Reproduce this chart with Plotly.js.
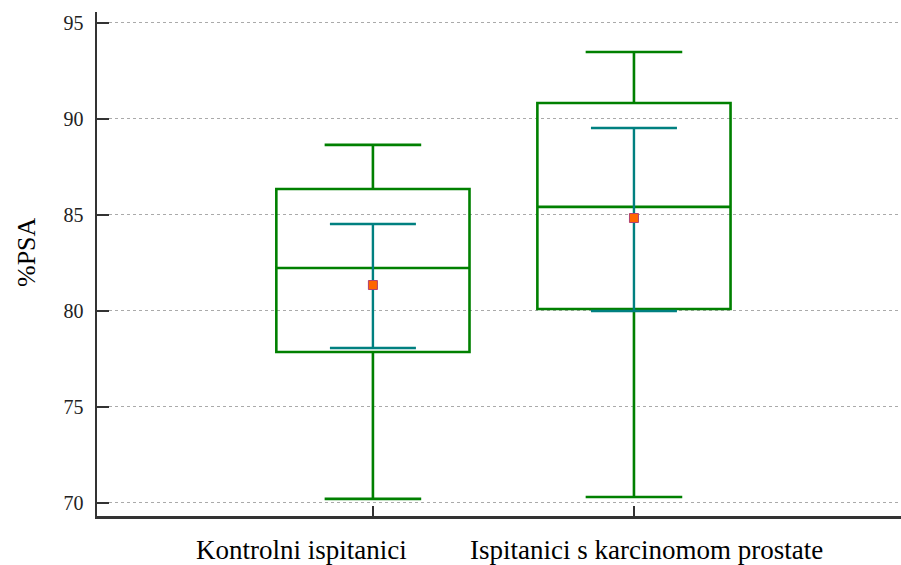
<!DOCTYPE html>
<html>
<head>
<meta charset="utf-8">
<script src="https://cdn.plot.ly/plotly-3.0.1.min.js"></script>
<style>html,body{margin:0;padding:0;background:#fff;}#chart{width:901px;height:565px;}</style>
</head>
<body>
<div id="chart"></div>
<script>
// Categories and values
const categories = ["Kontrolni ispitanici", "Ispitanici s karcinomom prostate"];
const positions = [0, 1];
const lowerWhisker = [70.21, 70.31];
const q1 = [77.86, 80.10];
const median = [82.24, 85.42];
const q3 = [86.35, 90.83];
const upperWhisker = [88.65, 93.49];
const means = [81.35, 84.84];
const ciLow = [78.07, 80.00];
const ciHigh = [84.53, 89.53];
const yTicks = [70, 75, 80, 85, 90, 95];
const yTitle = "%PSA";

const green = "#008000";
const teal = "#008080";
const serif = "'Liberation Serif', 'Times New Roman', Times, serif";

const traces = [];
positions.forEach((p, i) => {
  traces.push({
    type: "box",
    x: [p],
    q1: [q1[i]],
    median: [median[i]],
    q3: [q3[i]],
    lowerfence: [lowerWhisker[i]],
    upperfence: [upperWhisker[i]],
    width: 0.74,
    whiskerwidth: 0.5,
    fillcolor: "rgba(255,255,255,0)",
    line: {color: green, width: 2.6},
    boxpoints: false,
    hoverinfo: "skip",
    showlegend: false
  });
});
traces.push({
  type: "scatter",
  mode: "markers",
  x: positions,
  y: means,
  error_y: {
    type: "data",
    symmetric: false,
    array: means.map((m, i) => ciHigh[i] - m),
    arrayminus: means.map((m, i) => m - ciLow[i]),
    color: teal,
    thickness: 2.4,
    width: 43
  },
  marker: {symbol: "square", size: 9, color: "#ff6600", line: {color: "#b04070", width: 1}},
  showlegend: false,
  hoverinfo: "skip"
});

// category label placement (paper fractions), labels as in the reference
const labelX = [(301.5 - 97) / 804, (646.5 - 97) / 804];

const annotations = categories.map((c, i) => ({
  text: c,
  xref: "paper", yref: "paper",
  x: labelX[i], y: (516 - 550) / 504,
  xanchor: "center", yanchor: "middle",
  showarrow: false,
  font: {family: serif, size: 27, color: "#000"}
}));
annotations.push({
  text: yTitle,
  xref: "paper", yref: "paper",
  x: (26 - 97) / 804, y: (516 - 252) / 504,
  xanchor: "center", yanchor: "middle",
  textangle: -90,
  showarrow: false,
  font: {family: serif, size: 26, color: "#000"}
});

const layout = {
  width: 901,
  height: 565,
  margin: {l: 97, r: 0, t: 12, b: 49},
  paper_bgcolor: "#fff",
  plot_bgcolor: "#fff",
  showlegend: false,
  font: {family: serif},
  xaxis: {
    range: [-1.057, 2.023],
    tickvals: positions,
    ticktext: categories,
    showticklabels: false,
    ticks: "inside",
    ticklen: 10,
    tickwidth: 2,
    tickcolor: "#333",
    showline: true,
    linecolor: "#333",
    linewidth: 2.5,
    showgrid: false,
    zeroline: false
  },
  yaxis: {
    range: [69.32, 95.57],
    tickvals: yTicks,
    ticks: "inside",
    ticklen: 12,
    tickwidth: 2.5,
    tickcolor: "#333",
    showline: true,
    linecolor: "#333",
    linewidth: 2.5,
    showgrid: true,
    gridcolor: "#aaa",
    gridwidth: 1,
    griddash: "dot",
    zeroline: false,
    ticklabelstandoff: 7,
    tickfont: {family: serif, size: 20, color: "#222"}
  },
  annotations: annotations
};

Plotly.newPlot("chart", traces, layout, {displayModeBar: false, staticPlot: true});
</script>
</body>
</html>
